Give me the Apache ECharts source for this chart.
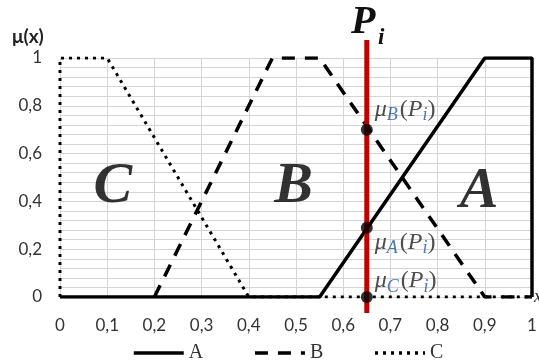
<!DOCTYPE html>
<html><head><meta charset="utf-8">
<script src="https://cdn.jsdelivr.net/npm/echarts@6/dist/echarts.min.js"></script>
<style>html,body{margin:0;padding:0;background:#fff}#c{width:539px;height:360px}</style>
</head><body><div id="c"></div>
<script>
// ---- data ----
const seriesNames = ['A', 'B', 'C'];
const dataA = [[0, 0], [0.55, 0], [0.9, 1], [1, 1], [1, 0]];
const dataB = [[0.2, 0], [0.45, 1], [0.55, 1], [0.9, 0], [1, 0]];
const dataC = [[0, 0], [0, 1], [0.1, 1], [0.4, 0], [1, 0]];
const piX = 0.65;
const piLine = [[piX, -0.067], [piX, 1.075]];
const piPointSubs = ['B', 'A', 'C'];
const piPointValues = [0.70, 0.29, 0];
const letterNames = ['C', 'B', 'A'];
const letterX = [0.112, 0.495, 0.888];
const letterY = [0.46, 0.46, 0.44];
const labelOffsets = [[0, -20], [0, 15], [0, -16]];
const yAxisTitle = 'μ(x)';
const xAxisTitle = 'x';

const fmt = v => String(+(+v).toFixed(2)).replace('.', ',');
const chart = echarts.init(document.getElementById('c'), null, { renderer: 'canvas' });

const option = {
  animation: false,
  backgroundColor: '#fff',
  grid: { left: 60, right: 7, top: 58, bottom: 63, containLabel: false, outerBoundsMode: 'none' },
  legend: {
    data: seriesNames,
    left: 132, top: 343, padding: 0,
    itemWidth: 50, itemHeight: 18, itemGap: 50,
    itemStyle: { opacity: 0 },
    lineStyle: { width: 3.5 },
    textStyle: { fontFamily: 'Liberation Serif', fontSize: 20, color: '#333' }
  },
  xAxis: {
    type: 'value', min: 0, max: 1, interval: 0.1,
    name: xAxisTitle, nameLocation: 'end', nameGap: 2,
    nameTextStyle: { fontFamily: 'Liberation Serif', fontStyle: 'italic', fontSize: 18, color: '#333', verticalAlign: 'middle', align: 'left' },
    axisLine: { show: false }, axisTick: { show: false },
    axisLabel: { formatter: fmt, margin: 20, fontFamily: 'Lato', fontSize: 17, color: '#333' },
    splitLine: { show: true, lineStyle: { color: '#d4d4d4', width: 1 } }
  },
  yAxis: {
    type: 'value', min: 0, max: 1, interval: 0.2,
    axisLine: { show: false }, axisTick: { show: false },
    axisLabel: { formatter: fmt, margin: 18, fontFamily: 'Lato', fontSize: 17, color: '#333' },
    splitLine: { show: true, lineStyle: { color: '#d4d4d4', width: 1 } },
    minorTick: { show: false, splitNumber: 5 },
    minorSplitLine: { show: true, lineStyle: { color: '#d4d4d4', width: 1 } }
  },
  graphic: [
    { type: 'text', left: 12, top: 27, style: { text: yAxisTitle, fontFamily: 'Lato', fontWeight: 'bold', fontSize: 19, fill: '#222' } },
    { type: 'text', x: 351, y: 23, style: { text: 'P', fontFamily: 'Liberation Serif', fontWeight: 'bold', fontStyle: 'italic', fontSize: 40, fill: '#111', verticalAlign: 'middle' } },
    { type: 'text', x: 378, y: 38, style: { text: 'i', fontFamily: 'Liberation Serif', fontWeight: 'bold', fontStyle: 'italic', fontSize: 23, fill: '#111', verticalAlign: 'middle' } }
  ],
  series: [
    { name: 'A', type: 'line', data: dataA, symbol: 'none', showSymbol: false, z: 3,
      lineStyle: { color: '#000', width: 3.5, type: 'solid' }, itemStyle: { color: '#000' } },
    { name: 'B', type: 'line', data: dataB, symbol: 'none', showSymbol: false, z: 3,
      lineStyle: { color: '#000', width: 3.5, type: [13, 10], cap: 'butt' }, itemStyle: { color: '#000' } },
    { name: 'C', type: 'line', data: dataC, symbol: 'none', showSymbol: false, z: 3,
      lineStyle: { color: '#000', width: 3, type: [3, 5], cap: 'butt' }, itemStyle: { color: '#000' } },
    { name: 'Pi', type: 'line', data: piLine, symbol: 'none', clip: false, z: 4,
      lineStyle: { color: '#c00000', width: 5 } },
    { name: 'points', type: 'scatter', data: piPointSubs.map((s, i) => ({
        name: 'mu' + s, value: [piX, piPointValues[i]], sub: s,
        label: { offset: labelOffsets[i] }
      })),
      symbol: 'circle', symbolSize: 12, z: 5, clip: false,
      itemStyle: { color: '#000' },
      label: {
        show: true, position: 'right', distance: 2,
        formatter: p => '{mu|μ}{sub|' + p.data.sub + '}{gap| }{par|(}{p|P}{sub|i}{par|)}',
        rich: {
          mu: { fontFamily: 'Liberation Serif', fontStyle: 'italic', fontSize: 24, color: '#222', lineHeight: 30, verticalAlign: 'middle' },
          gap: { fontFamily: 'Liberation Serif', fontSize: 8, lineHeight: 30, verticalAlign: 'middle' },
          par: { fontFamily: 'Liberation Serif', fontSize: 24, color: '#222', lineHeight: 30, verticalAlign: 'middle' },
          p: { fontFamily: 'Liberation Serif', fontStyle: 'italic', fontSize: 24, color: '#222', lineHeight: 30, verticalAlign: 'middle' },
          sub: { fontFamily: 'Liberation Serif', fontStyle: 'italic', fontSize: 18, color: '#1f56a0', lineHeight: 17, verticalAlign: 'bottom' }
        }
      }
    },
    { name: 'letters', type: 'scatter', symbolSize: 0, z: 6,
      data: letterNames.map((n, i) => ({ name: 'L' + n, value: [letterX[i], letterY[i]], txt: n })),
      label: { show: true, position: 'inside', formatter: p => p.data.txt,
        fontFamily: 'Liberation Serif', fontWeight: 'bold', fontStyle: 'italic', fontSize: 58, color: '#000' } }
  ]
};
chart.setOption(option);
</script></body></html>
